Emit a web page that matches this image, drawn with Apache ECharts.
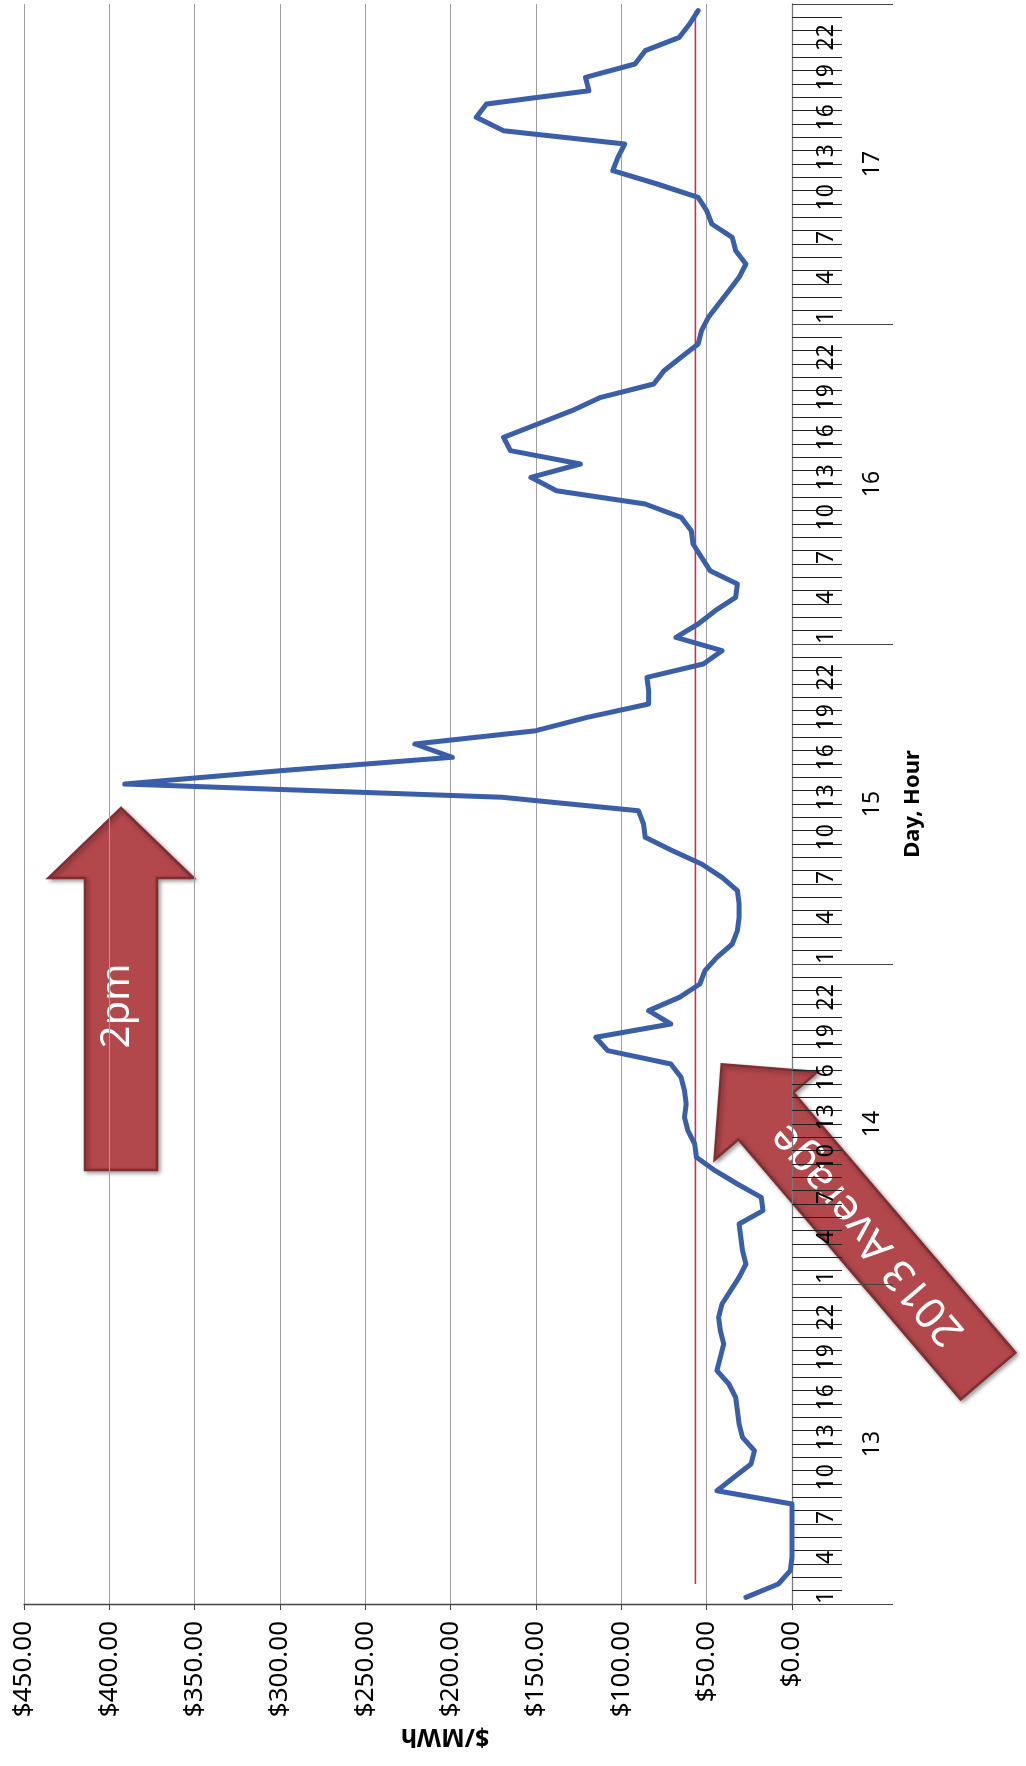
<!DOCTYPE html>
<html>
<head>
<meta charset="utf-8">
<title>Hourly price, days 13-17</title>
<script src="https://cdn.jsdelivr.net/npm/echarts@6/dist/echarts.min.js"></script>
<style>
  html, body { margin: 0; padding: 0; background: #ffffff; }
  #chart { width: 1026px; height: 1766px; }
</style>
</head>
<body>
<div id="chart"></div>
<script>
// Hourly prices ($/MWh), one array per day, hours 1..24
const day13 = [27, 8, 1, 0, 0, 0, 0, 0, 44, 34, 24, 22, 29, 31, 32, 33, 37, 44, 42, 40, 42, 43, 41, 36];
const day14 = [31, 27, 29, 30, 31, 17, 18, 32, 45, 56, 57, 61, 63, 62, 63, 65, 71, 108, 115, 71, 84, 66, 54, 51];
const day15 = [44, 35, 32, 31, 31, 32, 41, 53, 70, 86, 87, 90, 170, 391, 300, 199, 221, 150, 120, 84, 84, 85, 52, 41];
const day16 = [68, 55, 45, 33, 32, 48, 53, 58, 59, 65, 86, 138, 153, 124, 165, 169, 149, 129, 112, 81, 75, 65, 55, 53];
const day17 = [49, 43, 37, 31, 27, 33, 35, 47, 50, 55, 79, 105, 102, 98, 169, 185, 179, 119, 121, 92, 86, 66, 60, 55];

// 2013 average price
const avg2013 = 56.6;

// Axis categories and ticks
const days = ['13', '14', '15', '16', '17'];
const hoursOfDay = ['1','2','3','4','5','6','7','8','9','10','11','12',
                    '13','14','15','16','17','18','19','20','21','22','23','24'];
const priceTicks = { min: 0, max: 450, interval: 50 };

const hourLabels = [];
days.forEach(() => hoursOfDay.forEach(h => hourLabels.push(h)));
const prices = [].concat(day13, day14, day15, day16, day17);

const pricePoints = prices.map((v, i) => [v, i]);
// average line drawn from the second hour onward
const avgPoints = hourLabels.map((_, i) => [avg2013, i]).slice(1);

const FONT = '"Noto Sans", "Open Sans", sans-serif';
const ARROW_FILL = '#b2474c';
const ARROW_EDGE = '#7d2f32';

// arrow pointing along local +x, tail centred at the origin
function arrowPoints(len, headLen, headHalf, shaftHalf) {
  const neck = len - headLen;
  return [
    [0, -shaftHalf], [neck, -shaftHalf], [neck, -headHalf], [len, 0],
    [neck, headHalf], [neck, shaftHalf], [0, shaftHalf]
  ];
}

function arrow(pos, rotation, len, headLen, headHalf, shaftHalf, text, textAt, textOff, fontSize) {
  return {
    type: 'group',
    x: pos[0], y: pos[1],
    rotation: rotation,
    z: 100,
    children: [
      {
        type: 'polygon',
        shape: { points: arrowPoints(len, headLen, headHalf, shaftHalf) },
        style: {
          fill: ARROW_FILL, stroke: ARROW_EDGE, lineWidth: 2.5,
          shadowBlur: 4, shadowColor: 'rgba(0,0,0,0.35)', shadowOffsetX: 2, shadowOffsetY: 2
        }
      },
      {
        type: 'text',
        x: textAt, y: textOff,
        style: {
          text: text,
          fill: '#ffffff',
          font: 'normal ' + fontSize + 'px ' + FONT,
          align: 'center', verticalAlign: 'middle',
          textAlign: 'center', textVerticalAlign: 'middle'
        }
      }
    ]
  };
}

const chart = echarts.init(document.getElementById('chart'), null, { renderer: 'canvas' });

chart.setOption({
  backgroundColor: '#ffffff',
  animation: false,
  grid: { left: 24, right: 234, top: 4, bottom: 162, containLabel: false },
  xAxis: {
    type: 'value',
    inverse: true,
    position: 'bottom',
    min: priceTicks.min, max: priceTicks.max, interval: priceTicks.interval,
    axisLine: { show: true, lineStyle: { color: '#444444', width: 1.3 } },
    axisTick: { show: true, length: 6, lineStyle: { color: '#444444' } },
    splitLine: { show: true, lineStyle: { color: '#a0a0a0', width: 1 } },
    axisLabel: {
      rotate: 90,
      margin: 17,
      fontSize: 26,
      fontFamily: FONT,
      color: '#000000',
      formatter: v => '$' + v.toFixed(2)
    }
  },
  yAxis: [
    {
      type: 'category',
      position: 'right',
      data: hourLabels,
      boundaryGap: true,
      axisLine: { show: true, lineStyle: { color: '#7a7a7a', width: 1.3 } },
      axisTick: { show: true, interval: 0, length: 50, lineStyle: { color: '#222222', width: 1.2 } },
      axisLabel: {
        interval: i => i % 3 === 0,
        rotate: 90,
        margin: 23,
        fontSize: 23,
        fontFamily: FONT,
        color: '#000000'
      },
      splitLine: { show: false }
    },
    {
      type: 'category',
      position: 'right',
      data: days,
      boundaryGap: true,
      axisLine: { show: false },
      axisTick: { show: true, interval: 0, length: 101, lineStyle: { color: '#444444', width: 1.2 } },
      axisLabel: {
        rotate: 90,
        margin: 69,
        fontSize: 23,
        fontFamily: FONT,
        color: '#000000'
      },
      name: 'Day, Hour',
      nameLocation: 'middle',
      nameRotate: 90,
      nameGap: 110,
      nameTextStyle: { fontSize: 22, fontWeight: 'bold', fontFamily: FONT, color: '#000000' },
      splitLine: { show: false }
    }
  ],
  series: [
    {
      name: '2013 Average',
      type: 'line',
      xAxisIndex: 0, yAxisIndex: 0,
      data: avgPoints,
      showSymbol: false,
      symbol: 'none',
      lineStyle: { color: '#c8334f', width: 1.6 },
      z: 3
    },
    {
      name: 'Price',
      type: 'line',
      xAxisIndex: 0, yAxisIndex: 0,
      data: pricePoints,
      showSymbol: false,
      symbol: 'none',
      lineStyle: { color: '#3b5ea9', width: 5, join: 'round', cap: 'round' },
      z: 4
    }
  ],
  graphic: [
    {
      type: 'text',
      x: 445, y: 1736,
      rotation: Math.PI,
      style: {
        text: '$/MWh',
        fill: '#000000',
        font: 'bold 25px ' + FONT,
        align: 'center', verticalAlign: 'middle',
        textAlign: 'center', textVerticalAlign: 'middle'
      }
    },
    arrow([121, 1170], Math.PI / 2, 362, 70, 72.5, 36, '2pm', 164, -3, 40),
    arrow([988, 1376], 130.5 * Math.PI / 180, 410, 68, 67.5, 36, '2013 Average', 186, 0, 43)
  ]
});
</script>
</body>
</html>
